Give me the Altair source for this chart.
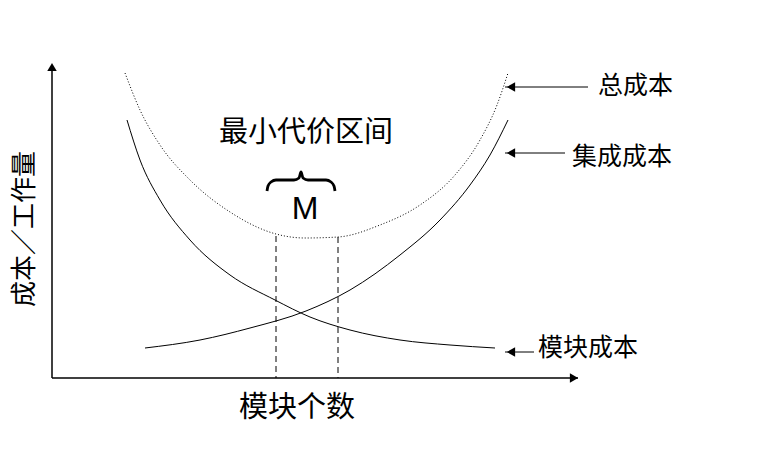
import altair as alt
import pandas as pd

# Curves (x = module count position, y = cost position; screen-like coordinates, y grows downward)
module_x = [127, 140, 160, 190, 230, 275, 310, 350, 400, 450, 495]
module_y = [120, 160, 200, 240, 275, 300, 317, 330, 340, 345, 348]

integ_x = [145, 200, 250, 306, 350, 400, 440, 470, 490, 508]
integ_y = [348, 340, 328, 311, 290, 255, 220, 185, 155, 120]

total_x = [125, 140, 160, 190, 230, 276, 305, 338, 380, 420, 455, 480, 497, 508]
total_y = [73, 110, 145, 180, 212, 234, 238, 237, 225, 205, 175, 140, 105, 73]

interval_x = [276, 338]
interval_top = [236, 237]
axis_origin = (52, 378)
axis_end_x = 578
axis_end_y = 62

brace_x = [267, 268, 271, 276, 294, 299, 301, 303, 308, 326, 331, 334, 335]
brace_y = [191, 186, 182, 180, 180, 178, 172, 178, 180, 180, 182, 186, 191]

labels = ["总成本", "集成成本", "模块成本"]
label_x = [598, 572, 538]
label_y = [86, 157, 348]
arrow_tip = [505, 505, 505]
arrow_tail = [588, 565, 534]
arrow_y = [87, 153, 352]

FONT = "Noto Sans CJK SC"

xs = alt.Scale(domain=[8, 770], nice=False, zero=False)
ys = alt.Scale(domain=[461, 8], nice=False, zero=False)
X = lambda f="x": alt.X(f"{f}:Q", scale=xs, axis=None)
Y = lambda f="y": alt.Y(f"{f}:Q", scale=ys, axis=None)

def curve(xv, yv, **kw):
    df = pd.DataFrame({"x": xv, "y": yv, "o": range(len(xv))})
    return alt.Chart(df).mark_line(color="black", interpolate="monotone", **kw).encode(
        x=X(), y=Y(), order="o:Q")

module = curve(module_x, module_y, strokeWidth=1)
integ = curve(integ_x, integ_y, strokeWidth=1)
total = curve(total_x, total_y, strokeWidth=1, strokeDash=[1, 2])
brace = alt.Chart(pd.DataFrame({"x": brace_x, "y": brace_y, "o": range(len(brace_x))})).mark_line(
    color="black", strokeWidth=2.8, interpolate="monotone").encode(x=X(), y=Y(), order="o:Q")

vdf = pd.DataFrame({"x": interval_x, "y": interval_top, "y2": [axis_origin[1]] * 2})
vlines = alt.Chart(vdf).mark_rule(color="black", strokeWidth=1, strokeDash=[6, 4]).encode(
    x=X(), y=Y(), y2="y2:Q")

axdf = pd.DataFrame({"x": [axis_origin[0]], "x2": [axis_end_x], "y": [axis_origin[1]]})
xaxis = alt.Chart(axdf).mark_rule(color="black", strokeWidth=1.5).encode(x=X(), x2="x2:Q", y=Y())
aydf = pd.DataFrame({"x": [axis_origin[0]], "y": [axis_origin[1]], "y2": [axis_end_y + 4]})
yaxis = alt.Chart(aydf).mark_rule(color="black", strokeWidth=1.5).encode(x=X(), y=Y(), y2="y2:Q")

up = alt.Chart(pd.DataFrame({"x": [axis_origin[0]], "y": [axis_end_y + 5]})).mark_point(
    shape="triangle-up", filled=True, color="black", size=90, opacity=1).encode(x=X(), y=Y())
right = alt.Chart(pd.DataFrame({"x": [axis_end_x - 4], "y": [axis_origin[1]]})).mark_point(
    shape="triangle-right", filled=True, color="black", size=90, opacity=1).encode(x=X(), y=Y())

adf = pd.DataFrame({"x": arrow_tip, "x2": arrow_tail, "y": arrow_y, "label": labels,
                    "lx": label_x, "ly": label_y})
arrow_lines = alt.Chart(adf).mark_rule(color="black", strokeWidth=1).encode(
    x=alt.X("x:Q", scale=xs, axis=None), x2="x2:Q", y=Y())
adf_heads = adf.assign(hx=[v + 6 for v in arrow_tip])
arrow_heads = alt.Chart(adf_heads).mark_point(
    shape="triangle-left", filled=True, color="black", size=90, opacity=1).encode(
    x=X("hx"), y=Y())
arrow_text = alt.Chart(adf).mark_text(align="left", baseline="middle", font=FONT, fontSize=25,
                                      color="black").encode(x=X("lx"), y=Y("ly"), text="label:N")

def label(text, x, y, size, font=FONT, angle=0):
    return alt.Chart(pd.DataFrame({"x": [x], "y": [y], "t": [text]})).mark_text(
        align="center", baseline="middle", font=font, fontSize=size, color="black",
        angle=angle).encode(x=X(), y=Y(), text="t:N")

title_mid = label("最小代价区间", 306, 133, 29)
m_lab = label("M", 305, 209, 32, font="Liberation Sans")
x_title = label("模块个数", 297, 408, 29)
y_title = label("成本／工作量", 25, 229, 26, angle=270)

chart = alt.layer(
    total, module, integ, vlines, brace, xaxis, yaxis, up, right,
    arrow_lines, arrow_heads, arrow_text, title_mid, m_lab, x_title, y_title
).properties(
    width=762, height=453, autosize=alt.AutoSizeParams(type="none"), padding=0
).configure_view(stroke=None)

chart.save("out.html", embed_options={"renderer": "svg", "actions": False})
